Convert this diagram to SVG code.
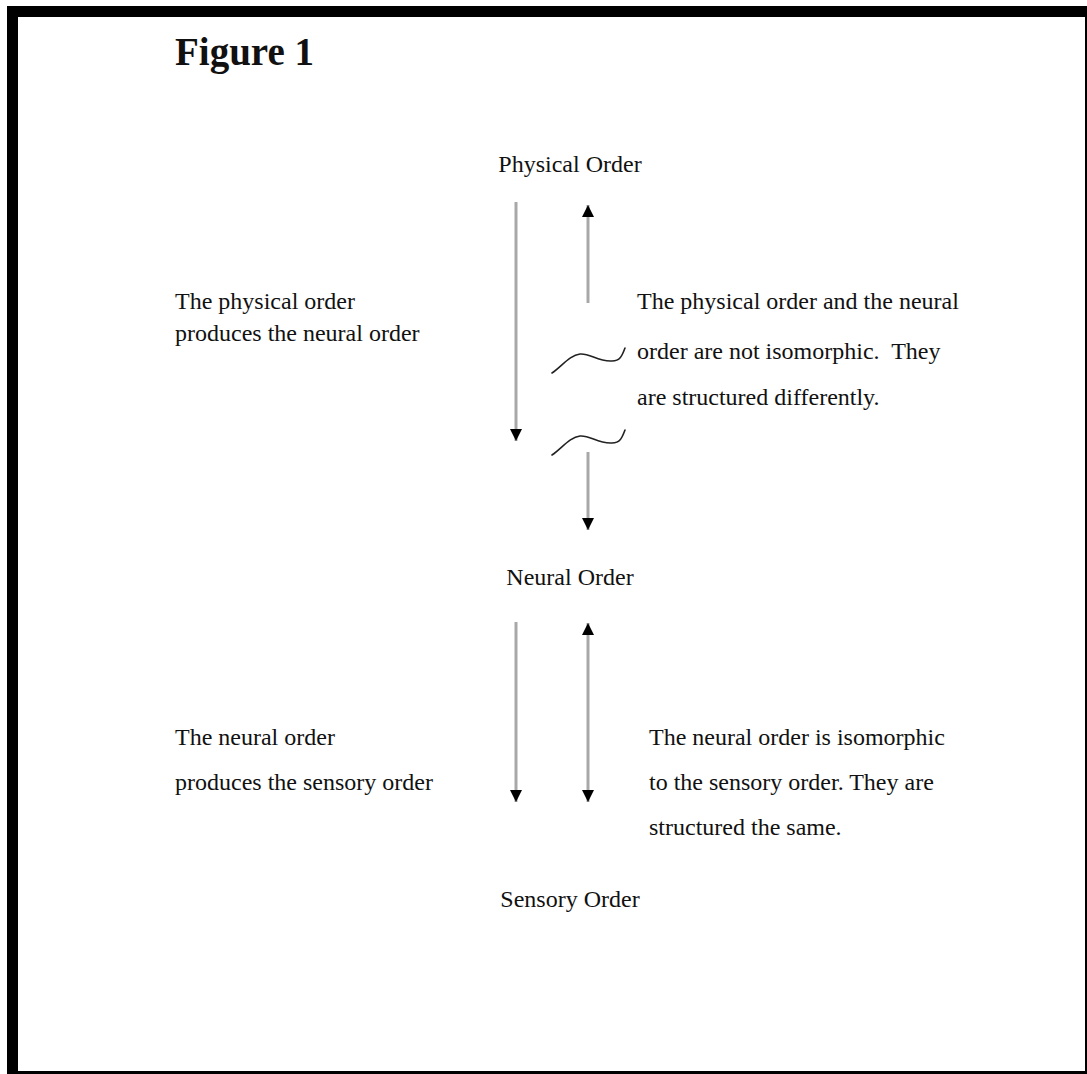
<svg xmlns="http://www.w3.org/2000/svg" width="1087" height="1074" viewBox="0 0 1087 1074">
<style>
.t{font-family:"Liberation Serif","Times New Roman",serif;font-size:24px;fill:#111;white-space:pre;}
.title{font-family:"Liberation Serif","Times New Roman",serif;font-size:39px;font-weight:bold;fill:#111;}
.c{text-anchor:middle;}
.arr{stroke:#a8a8a8;stroke-width:3;fill:none;}
.wave{stroke:#222;stroke-width:1.6;fill:none;stroke-linecap:round;}
</style>
<defs>
<marker id="ah" markerUnits="userSpaceOnUse" markerWidth="12" markerHeight="12" viewBox="0 0 10 10" refX="10" refY="5" orient="auto-start-reverse">
<path d="M0,0 L10,5 L0,10 z" fill="#000"/>
</marker>
</defs>
<rect x="0" y="0" width="1087" height="1074" fill="#fff"/>
<rect x="7" y="6" width="1080" height="1068" fill="#000"/>
<rect x="18" y="17" width="1067" height="1054" fill="#fff"/>
<g id="title"><text class="title" x="175" y="65">Figure 1</text></g>
<g id="physical-order"><text class="t c" x="570" y="172">Physical Order</text></g>
<g id="neural-order"><text class="t c" x="570" y="585">Neural Order</text></g>
<g id="sensory-order"><text class="t c" x="570" y="907">Sensory Order</text></g>
<g id="label-produces-neural"><text class="t" x="175" y="309">The physical order</text><text class="t" x="175" y="341">produces the neural order</text></g>
<g id="label-not-isomorphic"><text class="t" x="637" y="309">The physical order and the neural</text><text class="t" x="637" y="359" xml:space="preserve">order are not isomorphic.  They</text><text class="t" x="637" y="405">are structured differently.</text></g>
<g id="label-produces-sensory"><text class="t" x="175" y="745">The neural order</text><text class="t" x="175" y="790">produces the sensory order</text></g>
<g id="label-isomorphic"><text class="t" x="649" y="745">The neural order is isomorphic</text><text class="t" x="649" y="790">to the sensory order. They are</text><text class="t" x="649" y="835">structured the same.</text></g>
<g id="connectors">
<line class="arr" x1="516" y1="202" x2="516" y2="441" marker-end="url(#ah)"/>
<line class="arr" x1="588" y1="303" x2="588" y2="205" marker-end="url(#ah)"/>
<line class="arr" x1="588" y1="452" x2="588" y2="530" marker-end="url(#ah)"/>
<line class="arr" x1="516" y1="622" x2="516" y2="802" marker-end="url(#ah)"/>
<line class="arr" x1="588" y1="623" x2="588" y2="802" marker-start="url(#ah)" marker-end="url(#ah)"/>
<path class="wave" d="M552,373 C562,366 570,355 580,354 C590,353 598,362 612,361 C620,361 622,356 625,348"/>
<path class="wave" d="M552,455 C562,448 570,437 580,436 C590,435 598,444 612,443 C620,443 622,438 625,430"/>
</g>
</svg>
